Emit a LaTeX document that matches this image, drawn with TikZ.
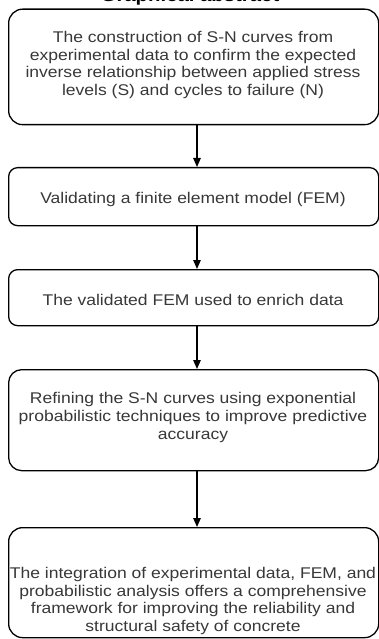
\documentclass[tikz,border=0pt]{standalone}
\usepackage{fontspec}
\setmainfont[FakeStretch=1.13]{Liberation Sans}
\usetikzlibrary{arrows.meta}
\begin{document}
\begin{tikzpicture}[x=1pt,y=-1pt,
  flowbox/.style={draw=black, line width=1.3pt, rounded corners=#1,
    inner sep=0pt, anchor=north west},
  flowtext/.style={text=black!78, align=center, inner sep=0pt,
    font=\fontsize{15.5}{17.7}\selectfont},
  flowarrow/.style={draw=black, line width=1.3pt,
    -{Triangle[length=9pt,width=7.5pt]}},
  titletext/.style={font=\bfseries\fontsize{18}{20}\selectfont, anchor=base, inner sep=0pt}]
\useasboundingbox (0,0) rectangle (379,639);
\clip (0,0) rectangle (379,639);
\fill[white] (0,0) rectangle (379,639);

% heading above the flow
\node[titletext] (title) at (190,2) {Graphical abstract};

% process boxes
\node[flowbox=14pt, minimum width=370pt, minimum height=115.5pt] (b1) at (8,8.5) {};
\node[flowbox=9pt,  minimum width=370pt, minimum height=58pt]    (b2) at (8,167) {};
\node[flowbox=9pt,  minimum width=370pt, minimum height=56pt]    (b3) at (8,269) {};
\node[flowbox=13pt, minimum width=370pt, minimum height=101pt]   (b4) at (8,369) {};
\node[flowbox=14pt, minimum width=370pt, minimum height=110pt]   (b5) at (8,527) {};

% box texts
\node[flowtext] (t1) at (193,65) {The construction of S-N curves from\\experimental data to confirm the expected\\inverse relationship between applied stress\\levels (S) and cycles to failure (N)};
\node[flowtext] (t2) at (193,199) {Validating a finite element model (FEM)};
\node[flowtext] (t3) at (193,300) {The validated FEM used to enrich data};
\node[flowtext] (t4) at (193,417.5) {Refining the S-N curves using exponential\\probabilistic techniques to improve predictive\\accuracy};
\node[flowtext] (t5) at (193,601) {The integration of experimental data, FEM, and\\probabilistic analysis offers a comprehensive\\framework for improving the reliability and\\structural safety of concrete};

% connectors
\coordinate (ax) at (197,0);
\draw[flowarrow] (b1.south -| ax) -- (b2.north -| ax);
\draw[flowarrow] (b2.south -| ax) -- (b3.north -| ax);
\draw[flowarrow] (b3.south -| ax) -- (b4.north -| ax);
\draw[flowarrow] (b4.south -| ax) -- (b5.north -| ax);
\end{tikzpicture}
\end{document}
